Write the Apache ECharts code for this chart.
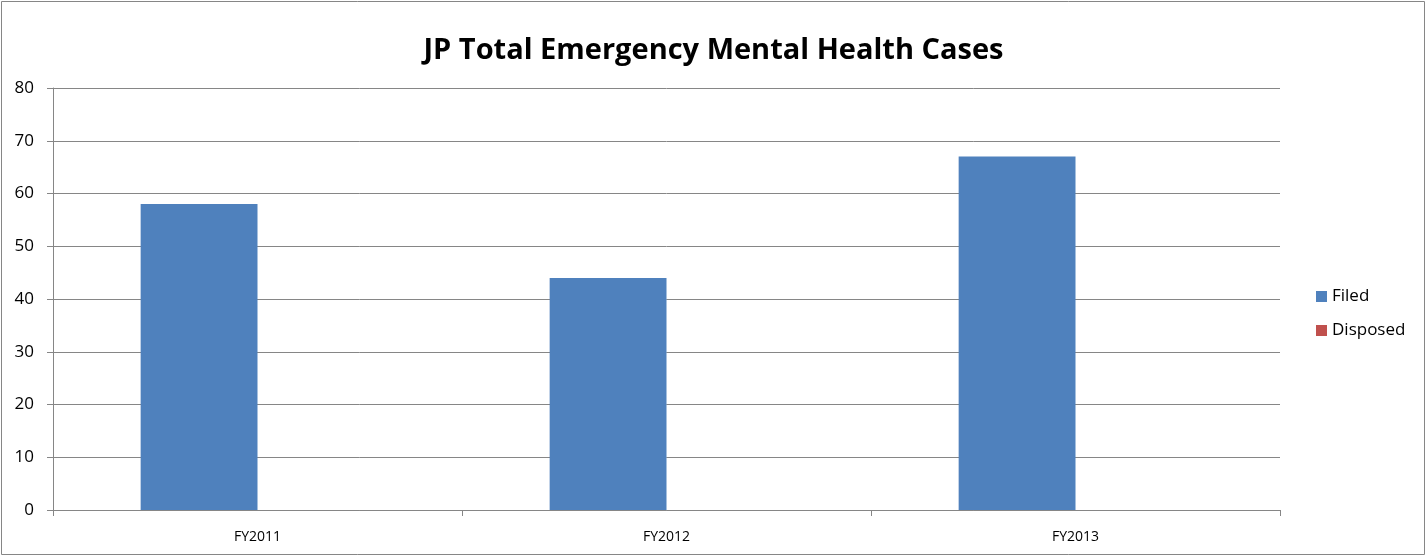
<!DOCTYPE html>
<html>
<head>
<meta charset="utf-8">
<script src="https://cdn.jsdelivr.net/npm/echarts@6/dist/echarts.min.js"></script>
<style>
html,body{margin:0;padding:0;background:#fff;}
#chart{width:1427px;height:557px;}
</style>
</head>
<body>
<div id="chart"></div>
<script>
const categories = ['FY2011', 'FY2012', 'FY2013'];
const filed = [58, 44, 67];
const disposed = [0, 0, 0];
const yTicks = { min: 0, max: 80, interval: 10 };

const chart = echarts.init(document.getElementById('chart'));
chart.setOption({
  animation: false,
  backgroundColor: '#fff',
  graphic: [{
    type: 'rect',
    shape: { x: 1.5, y: 1.5, width: 1423, height: 553 },
    style: { fill: 'none', stroke: '#868686', lineWidth: 1 },
    silent: true
  }],
  title: {
    text: 'JP Total Emergency Mental Health Cases',
    left: 'center',
    top: 31,
    textStyle: { fontFamily: 'Open Sans', fontWeight: 'bold', fontSize: 29, color: '#000' }
  },
  legend: {
    orient: 'vertical',
    left: 1311,
    top: 283,
    itemWidth: 11,
    itemHeight: 11,
    itemGap: 17,
    icon: 'rect',
    textStyle: { fontFamily: 'Open Sans', fontSize: 17, color: '#000' },
    data: ['Filed', 'Disposed']
  },
  grid: { left: 53, right: 147, top: 88, bottom: 47 },
  xAxis: {
    type: 'category',
    data: categories,
    axisLine: { lineStyle: { color: '#868686' } },
    axisTick: { show: true, length: 6, lineStyle: { color: '#868686' } },
    axisLabel: { color: '#000', fontFamily: 'Open Sans', fontSize: 14, margin: 20 }
  },
  yAxis: {
    type: 'value',
    min: yTicks.min,
    max: yTicks.max,
    interval: yTicks.interval,
    axisLine: { show: true, lineStyle: { color: '#868686' } },
    axisTick: { show: true, length: 6, lineStyle: { color: '#868686' } },
    splitLine: { lineStyle: { color: '#868686' } },
    axisLabel: { color: '#000', fontFamily: 'Open Sans', fontSize: 17, margin: 19 }
  },
  series: [
    { name: 'Filed', type: 'bar', data: filed, barGap: '0%', barCategoryGap: '42.86%', itemStyle: { color: '#4F81BD' } },
    { name: 'Disposed', type: 'bar', data: disposed, barGap: '0%', barCategoryGap: '42.86%', itemStyle: { color: '#C0504D' } }
  ]
});
</script>
</body>
</html>
